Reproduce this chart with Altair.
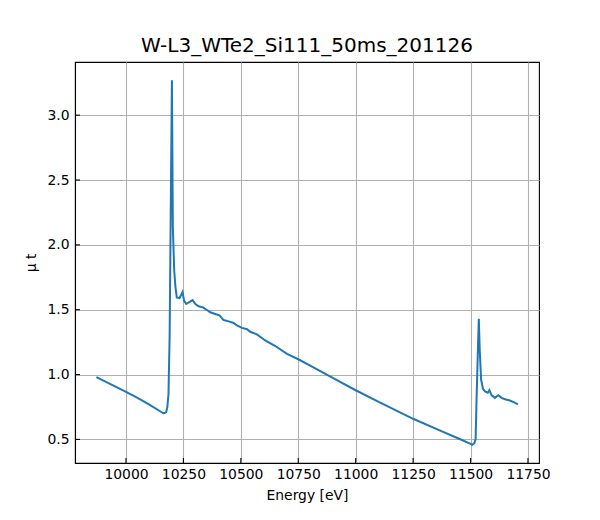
import altair as alt
import pandas as pd

energy = [9871, 9950, 10000, 10050, 10100, 10150, 10164, 10175, 10180, 10185, 10190,
          10195, 10200, 10204, 10210, 10215, 10221, 10233, 10239, 10246, 10253, 10262,
          10277, 10290, 10302, 10316, 10335, 10352, 10367, 10388, 10407, 10425, 10447,
          10466, 10483, 10505, 10527, 10541, 10570, 10606, 10650, 10701, 10750, 10800,
          10900, 11000, 11100, 11250, 11363, 11450, 11500, 11507, 11516, 11522, 11526,
          11532, 11536, 11540, 11546, 11554, 11563, 11575, 11582, 11592, 11606, 11621,
          11635, 11650, 11671, 11690, 11706]
mu = [0.98, 0.91, 0.866, 0.82, 0.77, 0.715, 0.70, 0.71, 0.75, 0.85, 1.30,
      2.30, 3.27, 2.14, 1.80, 1.68, 1.595, 1.59, 1.61, 1.635, 1.57, 1.544,
      1.56, 1.574, 1.544, 1.526, 1.518, 1.498, 1.48, 1.467, 1.456, 1.42, 1.41,
      1.40, 1.38, 1.36, 1.35, 1.33, 1.31, 1.263, 1.22, 1.16, 1.118, 1.07,
      0.975, 0.879, 0.79, 0.659, 0.572, 0.505, 0.465, 0.458, 0.47, 0.50, 0.80,
      1.19, 1.43, 1.19, 0.96, 0.89, 0.87, 0.86, 0.88, 0.84, 0.82, 0.84,
      0.82, 0.81, 0.80, 0.785, 0.77]

x_ticks = [10000, 10250, 10500, 10750, 11000, 11250, 11500, 11750]
y_ticks = [0.5, 1.0, 1.5, 2.0, 2.5, 3.0]

x_domain = [9778, 11798]
y_domain = [0.318, 3.41]

W, H = 464, 401

df = pd.DataFrame({"E": energy, "mu": mu})
xt = pd.DataFrame({"E": x_ticks})
yt = pd.DataFrame({"mu": y_ticks})

xscale = alt.Scale(domain=x_domain, nice=False, zero=False)
yscale = alt.Scale(domain=y_domain, nice=False, zero=False)

font = "DejaVu Sans"

xaxis = alt.Axis(values=x_ticks, format="d", ticks=False, tickSize=0,
                 labelPadding=4, titlePadding=8)
yaxis = alt.Axis(values=y_ticks, format=".1f", ticks=False, tickSize=0,
                 labelPadding=6, titlePadding=8)

line = alt.Chart(df).mark_line(color="#1f77b4", strokeWidth=2.0, clip=True).encode(
    x=alt.X("E:Q", scale=xscale, title="Energy [eV]", axis=xaxis),
    y=alt.Y("mu:Q", scale=yscale, title="μ t", axis=yaxis),
)

xtick_marks = alt.Chart(xt).mark_rule(color="black", strokeWidth=1.1).encode(
    x=alt.X("E:Q", scale=xscale, title="Energy [eV]", axis=xaxis),
    y=alt.value(H),
    y2=alt.value(H - 5),
)
ytick_marks = alt.Chart(yt).mark_rule(color="black", strokeWidth=1.1).encode(
    y=alt.Y("mu:Q", scale=yscale, title="μ t", axis=yaxis),
    x=alt.value(0),
    x2=alt.value(5),
)

chart = alt.layer(line, xtick_marks, ytick_marks).properties(
    width=W,
    height=H,
    background="white",
    title=alt.Title("W-L3_WTe2_Si111_50ms_201126", fontSize=20, font=font,
                    fontWeight="normal", color="black", offset=6),
    autosize=alt.AutoSizeParams(type="none"),
    padding={"left": 67, "top": 54, "right": 50, "bottom": 50},
).configure_axis(
    labelFont=font, labelFontSize=13.9, labelColor="black",
    titleFont=font, titleFontSize=13.9, titleColor="black", titleFontWeight="normal",
    grid=True, gridColor="#b0b0b0", gridWidth=1.1,
    domainColor="black", domainWidth=1.1,
).configure_view(
    stroke="black", strokeWidth=1.1,
)

chart.save("out.html", embed_options={"renderer": "svg", "actions": False})
